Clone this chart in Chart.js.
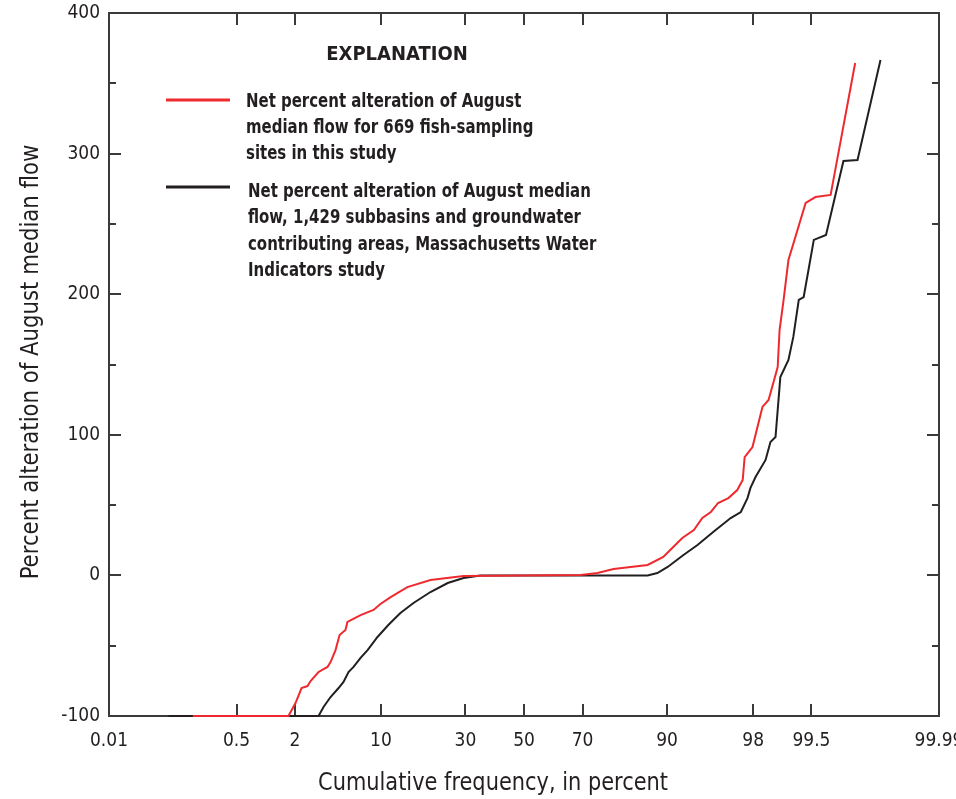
<!DOCTYPE html>
<html>
<head>
<meta charset="utf-8">
<script src="https://cdn.jsdelivr.net/npm/chart.js@4.4.1/dist/chart.umd.min.js"></script>
<style>
html,body{margin:0;padding:0;background:#fff;}
#wrap{width:956px;height:799px;position:relative;}
</style>
</head>
<body>
<div id="wrap"><canvas id="c" width="956" height="799"></canvas></div>
<script>
// ---- data ----
const tickPercents = [0.01, 0.5, 2, 10, 30, 50, 70, 90, 98, 99.5, 99.99];
const tickLabels = ['0.01', '0.5', '2', '10', '30', '50', '70', '90', '98', '99.5', '99.99'];
const yTickValues = [-100, 0, 100, 200, 300, 400];

// 669 fish-sampling sites (red)
const fishPct = [0.15, 1.74, 2.03, 2.31, 2.62, 2.79, 3.28, 3.91, 4.15, 4.56, 4.92, 5.48, 5.68, 7.15, 8.87, 9.92, 11.6, 14.8, 20.1, 29.4, 50, 69.4, 74.5, 78.9, 86.6, 89.4, 90.8, 92.2, 93.6, 94.5, 95.3, 95.9, 96.65, 97.2, 97.5, 97.6, 97.97, 98.37, 98.58, 98.85, 98.9, 99.0, 99.11, 99.42, 99.55, 99.7, 99.85];
const fishVal = [-100, -100, -90.8, -80.1, -78.7, -75.1, -68.7, -65.1, -61.6, -53.1, -42.4, -38.8, -33.1, -28.2, -24.6, -20.3, -15.4, -8.3, -3.3, -0.4, 0, 0.3, 1.7, 4.6, 7.4, 13.1, 19.5, 26.6, 32.3, 40.8, 45.1, 51.5, 55.0, 60.7, 67.9, 84.2, 91.3, 119.8, 124.8, 148.2, 174.5, 195.9, 224.3, 264.9, 269.1, 270.6, 364.4];

// 1,429 subbasins (black)
const mwiPct = [0.072, 3.28, 3.62, 4.15, 4.83, 5.29, 5.79, 6.33, 7.15, 8.05, 9.46, 11.2, 13.4, 16.1, 20.1, 24.7, 29.4, 34.8, 50, 86.6, 88.4, 90.1, 92.35, 94.0, 95.5, 96.8, 97.4, 97.74, 97.88, 98.1, 98.48, 98.64, 98.79, 98.92, 99.11, 99.21, 99.31, 99.39, 99.53, 99.66, 99.79, 99.86, 99.93];
const mwiVal = [-100, -100, -93.6, -86.5, -80.1, -75.8, -68.7, -65.1, -58.7, -53.1, -43.8, -35.3, -26.7, -19.6, -11.8, -5.4, -1.8, 0, 0, 0, 1.7, 6, 14.5, 21.6, 30.9, 40.8, 45.1, 55.0, 62.2, 70, 82.1, 94.9, 98.4, 141.1, 153.2, 169.6, 195.9, 198, 238.6, 242.1, 294.7, 295.4, 366.6];

const legendTitle = 'EXPLANATION';
const legendRed = ['Net percent alteration of August', 'median flow for 669 fish-sampling', 'sites in this study'];
const legendBlack = ['Net percent alteration of August median', 'flow, 1,429 subbasins and groundwater', 'contributing areas, Massachusetts Water', 'Indicators study'];
const xTitle = 'Cumulative frequency, in percent';
const yTitle = 'Percent alteration of August median flow';

// ---- probability (normal) transform ----
function probit(p) {
  const a=[-3.969683028665376e+01,2.209460984245205e+02,-2.759285104469687e+02,1.383577518672690e+02,-3.066479806614716e+01,2.506628277459239e+00];
  const b=[-5.447609879822406e+01,1.615858368580409e+02,-1.556989798598866e+02,6.680131188771972e+01,-1.328068155288572e+01];
  const c=[-7.784894002430293e-03,-3.223964580411365e-01,-2.400758277161838e+00,-2.549732539343734e+00,4.374664141464968e+00,2.938163982698783e+00];
  const d=[7.784695709041462e-03,3.224671290700398e-01,2.445134137142996e+00,3.754408661907416e+00];
  const pl = 0.02425, ph = 1 - pl;
  let q, r;
  if (p < pl) { q = Math.sqrt(-2*Math.log(p)); return (((((c[0]*q+c[1])*q+c[2])*q+c[3])*q+c[4])*q+c[5])/((((d[0]*q+d[1])*q+d[2])*q+d[3])*q+1); }
  if (p <= ph) { q = p - 0.5; r = q*q; return (((((a[0]*r+a[1])*r+a[2])*r+a[3])*r+a[4])*r+a[5])*q/(((((b[0]*r+b[1])*r+b[2])*r+b[3])*r+b[4])*r+1); }
  q = Math.sqrt(-2*Math.log(1-p)); return -(((((c[0]*q+c[1])*q+c[2])*q+c[3])*q+c[4])*q+c[5])/((((d[0]*q+d[1])*q+d[2])*q+d[3])*q+1);
}
const z = pct => probit(pct / 100);
const toPoints = (ps, vs) => ps.map((p, i) => ({ x: z(p), y: vs[i] }));

const FONT = '"Liberation Sans Narrow", "DejaVu Sans Condensed", "Roboto Condensed", sans-serif';
const TXT = '#231f20';
const FRAME = '#3a3a3a';

function squeezeText(ctx, text, x, y, sx) {
  ctx.save();
  ctx.translate(x, y);
  ctx.scale(sx, 1);
  ctx.fillText(text, 0, 0);
  ctx.restore();
}

const decor = {
  id: 'decor',
  beforeDatasetsDraw(chart) {
    const { ctx, chartArea: ca, scales } = chart;
    const xs = scales.x, ys = scales.y;
    ctx.save();
    ctx.strokeStyle = FRAME;
    ctx.lineWidth = 2;
    ctx.strokeRect(ca.left, ca.top, ca.right - ca.left, ca.bottom - ca.top);
    ctx.beginPath();
    tickPercents.slice(1, -1).forEach(p => {
      const px = Math.round(xs.getPixelForValue(z(p)));
      ctx.moveTo(px, ca.bottom); ctx.lineTo(px, ca.bottom - 12);
      ctx.moveTo(px, ca.top); ctx.lineTo(px, ca.top + 12);
    });
    for (let v = -50; v < 400; v += 50) {
      const py = Math.round(ys.getPixelForValue(v));
      const len = (v % 100 === 0) ? 12 : 7;
      ctx.moveTo(ca.left, py); ctx.lineTo(ca.left + len, py);
      ctx.moveTo(ca.right, py); ctx.lineTo(ca.right - len, py);
    }
    ctx.stroke();
    ctx.restore();
  },
  afterDraw(chart) {
    const { ctx } = chart;
    ctx.save();
    ctx.fillStyle = TXT;
    ctx.textBaseline = 'alphabetic';
    // x axis title
    ctx.font = '25px ' + FONT;
    ctx.textAlign = 'center';
    squeezeText(ctx, xTitle, 493, 790, 0.93);
    // y axis title
    ctx.save();
    ctx.translate(38, 362);
    ctx.rotate(-Math.PI / 2);
    squeezeText(ctx, yTitle, 0, 0, 0.945);
    ctx.restore();

    // legend
    ctx.font = 'bold 20px ' + FONT;
    ctx.textAlign = 'center';
    ctx.fillText(legendTitle, 397, 60);
    ctx.lineWidth = 3;
    ctx.strokeStyle = '#ee2a2f';
    ctx.beginPath(); ctx.moveTo(166, 100); ctx.lineTo(230, 100); ctx.stroke();
    ctx.strokeStyle = '#231f20';
    ctx.beginPath(); ctx.moveTo(166, 187); ctx.lineTo(230, 187); ctx.stroke();
    ctx.font = 'bold 19px ' + FONT;
    ctx.textAlign = 'left';
    legendRed.forEach((t, i) => squeezeText(ctx, t, 246, 107 + i * 26, 0.875));
    legendBlack.forEach((t, i) => squeezeText(ctx, t, 248, 197 + i * 26.3, 0.875));
    ctx.restore();
  }
};

new Chart(document.getElementById('c'), {
  type: 'line',
  data: {
    datasets: [
      {
        label: 'Net percent alteration of August median flow for 669 fish-sampling sites in this study',
        data: toPoints(fishPct, fishVal),
        borderColor: '#ee2a2f',
        borderWidth: 2,
        pointRadius: 0,
        tension: 0,
        fill: false,
        clip: false
      },
      {
        label: 'Net percent alteration of August median flow, 1,429 subbasins and groundwater contributing areas, Massachusetts Water Indicators study',
        data: toPoints(mwiPct, mwiVal),
        borderColor: '#231f20',
        borderWidth: 2,
        pointRadius: 0,
        tension: 0,
        fill: false,
        clip: false
      }
    ]
  },
  options: {
    responsive: false,
    animation: false,
    layout: { padding: { left: 0, top: 13, right: 17, bottom: 0 } },
    plugins: { legend: { display: false }, tooltip: { enabled: false } },
    scales: {
      x: {
        type: 'linear',
        min: z(0.01),
        max: z(99.99),
        afterFit: s => { s.height = 83; s.paddingLeft = 0; s.paddingRight = 0; },
        afterBuildTicks: s => { s.ticks = tickPercents.map(p => ({ value: z(p) })); },
        grid: { display: false, drawTicks: false },
        border: { display: false },
        ticks: {
          autoSkip: false, maxRotation: 0, padding: 14,
          color: TXT, font: { family: FONT, size: 19 },
          callback: (v, i) => tickLabels[i]
        }
      },
      y: {
        type: 'linear',
        min: -100,
        max: 400,
        afterFit: s => { s.width = 109; s.paddingTop = 0; s.paddingBottom = 0; },
        afterBuildTicks: s => { s.ticks = yTickValues.map(v => ({ value: v })); },
        grid: { display: false, drawTicks: false },
        border: { display: false },
        ticks: {
          padding: 9, color: TXT, font: { family: FONT, size: 19 },
          callback: v => String(v)
        }
      }
    }
  },
  plugins: [decor]
});
</script>
</body>
</html>
